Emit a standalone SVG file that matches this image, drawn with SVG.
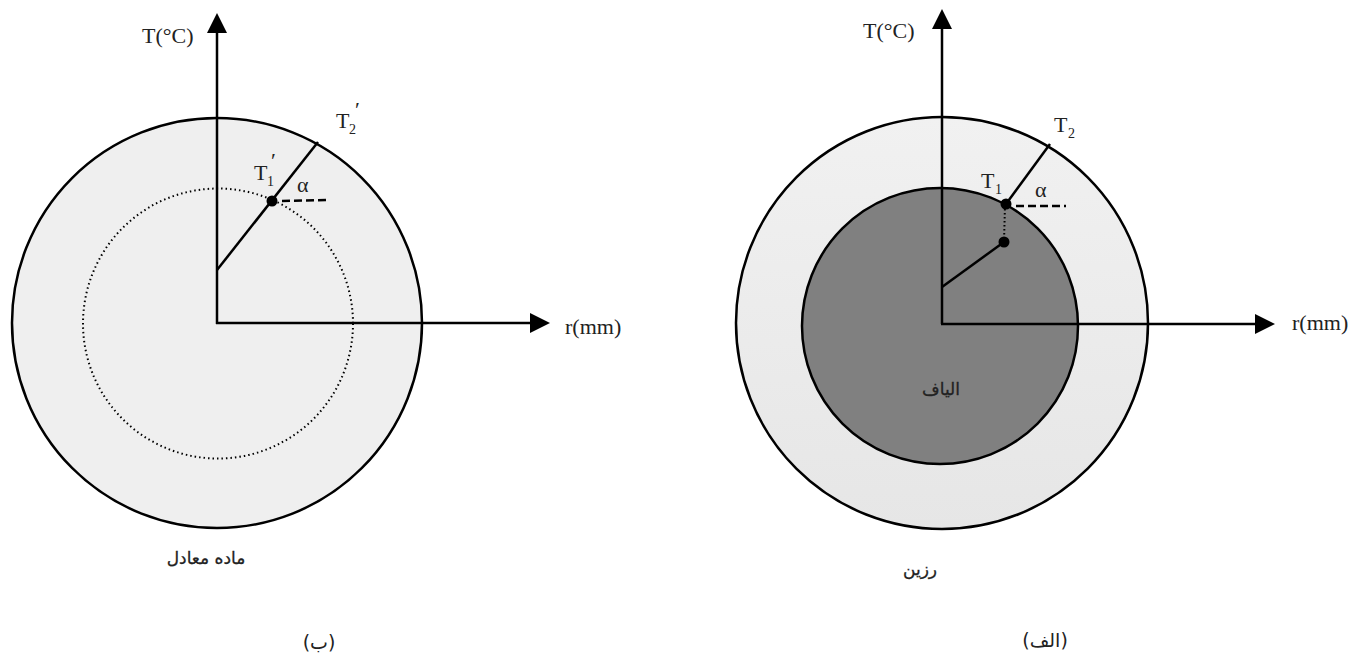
<svg xmlns="http://www.w3.org/2000/svg" width="1355" height="654" viewBox="0 0 1355 654">
<style>
.ln{stroke:#000;stroke-width:2.5;fill:none}
.lat{font-family:"Liberation Serif",serif;font-size:22px;fill:#222}
.sub{font-family:"Liberation Serif",serif;font-size:14px;fill:#222}
.ar{font-family:"DejaVu Sans","Noto Sans",sans-serif;font-size:17px;fill:#222;stroke:#222;stroke-width:0.3;text-anchor:middle}
.ar2{font-family:"DejaVu Sans","Noto Sans",sans-serif;font-size:19px;fill:#222;text-anchor:middle}
</style>
<defs>
<linearGradient id="g1" x1="0" y1="0" x2="0" y2="1">
<stop offset="0" stop-color="#f1f1f1"/><stop offset="1" stop-color="#e6e6e6"/>
</linearGradient>
<marker id="ah" viewBox="0 0 10 10" refX="7" refY="5" markerWidth="8" markerHeight="8" markerUnits="strokeWidth" orient="auto">
<path d="M0,0 L10,5 L0,10 Z" fill="#000"/>
</marker>
</defs>
<rect width="1355" height="654" fill="#fff"/>

<g id="left-outer"><circle cx="217" cy="323" r="205" fill="#efefef" stroke="#000" stroke-width="2.5"/></g>
<g id="left-inner"><circle cx="218" cy="323.5" r="135" fill="none" stroke="#000" stroke-width="2" stroke-dasharray="1.5,3"/></g>

<g id="right-outer"><circle cx="942" cy="323" r="206" fill="url(#g1)" stroke="#000" stroke-width="2.5"/></g>
<g id="right-inner"><circle cx="940" cy="326" r="138" fill="#808080" stroke="#000" stroke-width="2.5"/></g>

<g id="connectors">
<line class="ln" x1="217" y1="324" x2="217" y2="19" marker-end="url(#ah)"/>
<line class="ln" x1="216" y1="323" x2="544" y2="323" marker-end="url(#ah)"/>
<line class="ln" x1="217" y1="270" x2="318" y2="142"/>
<line x1="282" y1="201" x2="330" y2="200" stroke="#000" stroke-width="2.5" stroke-dasharray="8,4"/>

<line class="ln" x1="942" y1="324" x2="942" y2="15" marker-end="url(#ah)"/>
<line class="ln" x1="941" y1="324" x2="1269" y2="324" marker-end="url(#ah)"/>
<line class="ln" x1="1006" y1="204" x2="1050" y2="144"/>
<line x1="1005" y1="205" x2="1004" y2="242" stroke="#000" stroke-width="2" stroke-dasharray="1.5,2.5"/>
<line class="ln" x1="942" y1="287" x2="1004" y2="242"/>
<line x1="1016" y1="206" x2="1066" y2="206" stroke="#000" stroke-width="2.5" stroke-dasharray="8,4"/>
</g>

<g id="left-dot"><circle cx="272" cy="201" r="5.5" fill="#000"/></g>
<g id="right-dot1"><circle cx="1006" cy="204" r="5.5" fill="#000"/></g>
<g id="right-dot2"><circle cx="1004" cy="242" r="5.5" fill="#000"/></g>

<g id="left-labels">
<text class="lat" x="142" y="43" font-size="21">T(°C)</text>
<text class="lat" x="565" y="334" font-size="23">r(mm)</text>
<text class="lat" x="336" y="128">T</text><text class="sub" x="349" y="134">2</text><text class="lat" x="355" y="117">′</text>
<text class="lat" x="254" y="180">T</text><text class="sub" x="267" y="186">1</text><text class="lat" x="271" y="168">′</text>
<text class="lat" x="297" y="192">α</text>
<text class="ar" x="206" y="564">ماده معادل</text>
<text class="ar2" x="319" y="649">(ب)</text>
</g>

<g id="right-labels">
<text class="lat" x="863" y="38" font-size="21">T(°C)</text>
<text class="lat" x="1292" y="330" font-size="23">r(mm)</text>
<text class="lat" x="1054" y="132">T</text><text class="sub" x="1068" y="138">2</text>
<text class="lat" x="981" y="188">T</text><text class="sub" x="995" y="194">1</text>
<text class="lat" x="1035" y="197">α</text>
<text class="ar" x="941" y="395">الیاف</text>
<text class="ar" x="920" y="575">رزین</text>
<text class="ar2" x="1045" y="647">(الف)</text>
</g>
</svg>
